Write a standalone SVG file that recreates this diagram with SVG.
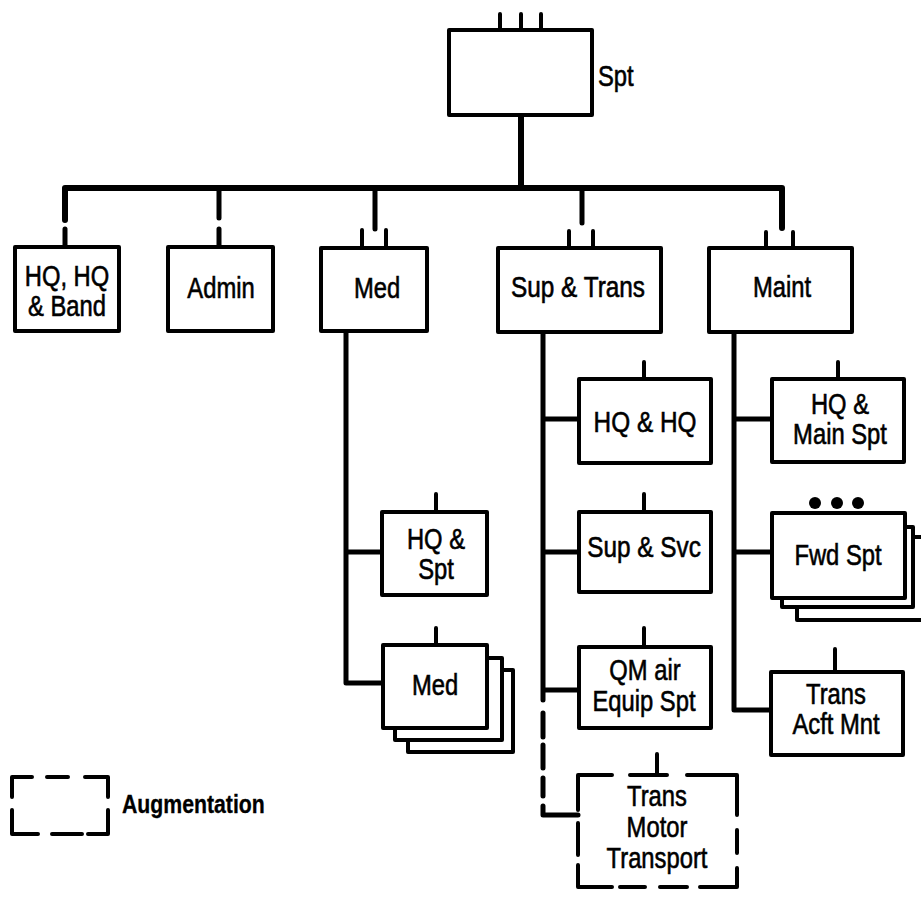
<svg xmlns="http://www.w3.org/2000/svg" width="921" height="897" viewBox="0 0 921 897">
<style>
.box{fill:#fff;stroke:#000;stroke-width:4;stroke-linejoin:round}
.ln{fill:none;stroke:#000;stroke-width:5;stroke-linecap:round;stroke-linejoin:round}
.bus{fill:none;stroke:#000;stroke-width:6;stroke-linecap:round;stroke-linejoin:round}
.tk{fill:none;stroke:#000;stroke-width:4;stroke-linecap:round}
.dsh{fill:none;stroke:#000;stroke-width:4;stroke-linecap:round;stroke-linejoin:round}
text{font-family:"Liberation Sans",Arial,sans-serif;font-size:29px;fill:#000;stroke:#000;stroke-width:0.6;text-anchor:middle}
.lg{text-anchor:start;font-size:25px;font-weight:bold;stroke-width:0.3}
.st{text-anchor:start}
</style>
<rect width="921" height="897" fill="#fff"/>
<g id="connectors">
<path class="bus" d="M65,220 V188 H782 V228"/>
<path class="bus" d="M521,115 V188"/>
<path class="ln" d="M65,229 V247"/>
<path class="ln" d="M219,188 V218 M219,229 V247"/>
<path class="ln" d="M375,188 V229"/>
<path class="tk" d="M362,230 V248 M386,230 V248"/>
<path class="ln" d="M582,188 V223"/>
<path class="tk" d="M569,231 V248 M593,231 V248"/>
<path class="tk" d="M766,232 V248 M793,232 V248"/>
<path class="tk" d="M500,14 V30 M521,14 V30 M541,14 V30"/>
<path class="ln" d="M346,331 V683 H383 M346,552 H382"/>
<path class="tk" d="M436,494 V512 M436,628 V645"/>
<path class="ln" d="M543,332 V700 M543,419 H579 M543,552 H579 M543,690 H579"/>
<path class="ln" d="M543,713 V737 M543,745 V768 M543,778 V796 M543,806 V815 H578"/>
<path class="tk" d="M644,362 V379 M644,494 V512 M644,628 V647 M657,754 V775"/>
<path class="ln" d="M734,332 V710 H771 M734,419 H772 M734,552 H772"/>
<path class="tk" d="M838,362 V379 M835,649 V672"/>
</g>
<g id="spt">
<rect class="box" x="449" y="30" width="143" height="85"/>
<text class="st" transform="translate(598,86) scale(0.82,1)">Spt</text>
</g>
<g id="hq-band">
<rect class="box" x="15" y="247" width="104" height="84"/>
<text transform="translate(67,286) scale(0.82,1)">HQ, HQ</text>
<text transform="translate(67,316) scale(0.82,1)">&amp; Band</text>
</g>
<g id="admin">
<rect class="box" x="168" y="247" width="105" height="84"/>
<text transform="translate(221,298) scale(0.82,1)">Admin</text>
</g>
<g id="med">
<rect class="box" x="321" y="248" width="106" height="83"/>
<text transform="translate(377,298) scale(0.82,1)">Med</text>
</g>
<g id="sup-trans">
<rect class="box" x="498" y="248" width="163" height="84"/>
<text transform="translate(578,297) scale(0.84,1)">Sup &amp; Trans</text>
</g>
<g id="maint">
<rect class="box" x="709" y="248" width="143" height="84"/>
<text transform="translate(782,297) scale(0.82,1)">Maint</text>
</g>
<g id="hq-spt">
<rect class="box" x="382" y="512" width="105" height="83"/>
<text transform="translate(436,549) scale(0.82,1)">HQ &amp;</text>
<text transform="translate(436,579) scale(0.82,1)">Spt</text>
</g>
<g id="med-co">
<rect class="box" x="408" y="670" width="105" height="82"/>
<rect class="box" x="395" y="658" width="107" height="82"/>
<rect class="box" x="383" y="645" width="104" height="83"/>
<text transform="translate(435,695) scale(0.82,1)">Med</text>
</g>
<g id="hq-hq">
<rect class="box" x="579" y="379" width="132" height="84"/>
<text transform="translate(645,432) scale(0.84,1)">HQ &amp; HQ</text>
</g>
<g id="sup-svc">
<rect class="box" x="579" y="512" width="132" height="80"/>
<text transform="translate(644,557) scale(0.84,1)">Sup &amp; Svc</text>
</g>
<g id="qm-air">
<rect class="box" x="579" y="647" width="132" height="81"/>
<text transform="translate(645,680) scale(0.82,1)">QM air</text>
<text transform="translate(644,711) scale(0.82,1)">Equip Spt</text>
</g>
<g id="trans-motor">
<path class="dsh" d="M578,810 V775 H612 M630,775 H667 M687,775 H737 V815 M737,830 V853 M737,868 V887 H700 M687,887 H660 M645,887 H620 M612,887 H578 V865 M578,855 V823"/>
<text transform="translate(657,806) scale(0.82,1)">Trans</text>
<text transform="translate(657,837) scale(0.82,1)">Motor</text>
<text transform="translate(657,868) scale(0.82,1)">Transport</text>
</g>
<g id="hq-main">
<rect class="box" x="772" y="379" width="132" height="83"/>
<text transform="translate(840,414) scale(0.82,1)">HQ &amp;</text>
<text transform="translate(840,444) scale(0.82,1)">Main Spt</text>
</g>
<g id="fwd-spt">
<rect class="box" x="797" y="537" width="135" height="83"/>
<rect class="box" x="782" y="527" width="131" height="80"/>
<rect class="box" x="772" y="513" width="133" height="85"/>
<circle cx="815" cy="503" r="6"/>
<circle cx="837" cy="503" r="6"/>
<circle cx="858" cy="503" r="6"/>
<text transform="translate(838,565) scale(0.82,1)">Fwd Spt</text>
</g>
<g id="trans-acft">
<rect class="box" x="771" y="672" width="132" height="83"/>
<text transform="translate(836,704) scale(0.82,1)">Trans</text>
<text transform="translate(836,734) scale(0.82,1)">Acft Mnt</text>
</g>
<g id="legend">
<path class="dsh" d="M12,797 V777 H32 M47,777 H68 M85,777 H108 V797 M108,810 V834 H88 M82,834 H52 M38,834 H12 V810"/>
<text class="lg" transform="translate(122,813) scale(0.85,1)">Augmentation</text>
</g>
</svg>
